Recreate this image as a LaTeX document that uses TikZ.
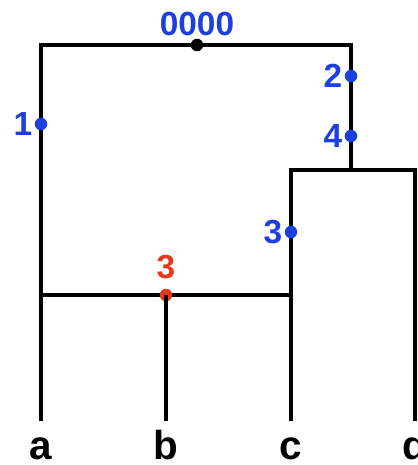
\documentclass[tikz,border=0pt]{standalone}
\usepackage{fontspec}
\setmainfont{Liberation Sans}
\usetikzlibrary{positioning}
\definecolor{mut}{HTML}{1E3FE0}
\definecolor{hyb}{HTML}{E5391E}

\begin{document}
\begin{tikzpicture}[
    branch/.style={line width=2.3pt,line join=miter,black},
    dot/.style={circle,fill=#1,inner sep=0pt,minimum size=0.25cm},
    lab/.style={font=\fontsize{19}{19}\selectfont\bfseries,text=#1,inner sep=1pt},
    tip/.style={font=\fontsize{23}{23}\selectfont\bfseries,inner sep=0pt,anchor=base},
]
\useasboundingbox (0,0) rectangle (8.34,9.3);

% Skeleton points
\coordinate (aTop) at (0.82,8.4);
\coordinate (rTop) at (7.02,8.4);
\coordinate (rJoin) at (7.02,5.9);
\coordinate (cTop) at (5.82,5.9);
\coordinate (dTop) at (8.30,5.9);
\coordinate (aMid) at (0.82,3.4);
\coordinate (cMid) at (5.82,3.4);
\coordinate (aEnd) at (0.82,0.88);
\coordinate (bEnd) at (3.32,0.88);
\coordinate (cEnd) at (5.82,0.88);
\coordinate (dEnd) at (8.30,0.88);

% Branches
\draw[branch] (aEnd) -- (aTop) -- (rTop) -- (rJoin);
\draw[branch] (cEnd) -- (cTop) -- (dTop) -- (dEnd);
\draw[branch] (aMid) -- (cMid);

% Root and hybrid point
\node[dot=black] (root) at (3.94,8.4) {};
\node[dot=hyb] (hyb) at (3.32,3.4) {};
\draw[branch] (hyb.center) -- (bEnd);

% Mutations
\node[dot=mut] (m1) at (0.82,6.82) {};
\node[dot=mut] (m2) at (7.02,7.78) {};
\node[dot=mut] (m4) at (7.02,6.58) {};
\node[dot=mut] (m3) at (5.82,4.66) {};

% Labels
\node[lab=mut,above=0pt of root] (l0) {0000};
\node[lab=mut,left=0pt of m1] (l1) {1};
\node[lab=mut,left=0pt of m2] (l2) {2};
\node[lab=mut,left=0pt of m4] (l4) {4};
\node[lab=mut,left=0pt of m3] (l3) {3};
\node[lab=hyb,above=4pt of hyb] (lh) {3};

% Leaves
\node[tip] (a) at (0.82,0.12) {a};
\node[tip] (b) at (3.32,0.12) {b};
\node[tip] (c) at (5.82,0.12) {c};
\node[tip] (d) at (8.30,0.12) {d};
\end{tikzpicture}
\end{document}
